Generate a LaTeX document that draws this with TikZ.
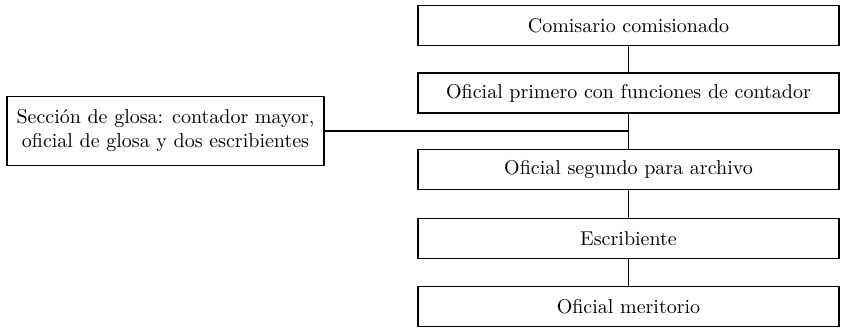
\documentclass[tikz,border=0pt]{standalone}
\usepackage{tikz}
\usepackage{amsmath}

\begin{document}
\begin{tikzpicture}[x = 0.5pt, y = -0.5pt,
        cargo/.style = {draw, line width = 0.6pt, minimum width = 210.5pt, minimum height = 20pt, inner sep = 0pt},
        seccion/.style = {draw, line width = 0.6pt, minimum width = 158.5pt, minimum height = 34.5pt, inner sep = 0pt, align = center}]
        \useasboundingbox (0, 0) rectangle (841, 327);
        \node[cargo] (comisario) at (628.5, 25.5) {Comisario comisionado};
        \node[cargo] (primero) at (628.5, 93) {Oficial primero con funciones de contador};
        \node[cargo] (segundo) at (628.5, 169.5) {Oficial segundo para archivo};
        \node[cargo] (escribiente) at (628.5, 238.5) {Escribiente};
        \node[cargo] (meritorio) at (628.5, 306.5) {Oficial meritorio};
        \node[seccion] (glosa) at (165.5, 131) {Sección de glosa: contador mayor,\\oficial de glosa y dos escribientes};
        \draw[line width = 0.6pt] (comisario) -- (primero);
        \draw[line width = 0.6pt] (primero) -- (segundo);
        \draw[line width = 0.6pt] (segundo) -- (escribiente);
        \draw[line width = 0.6pt] (escribiente) -- (meritorio);
        \draw[line width = 0.6pt] (glosa.east) -- (glosa.east -| primero.south);
    \end{tikzpicture}
\end{document}
